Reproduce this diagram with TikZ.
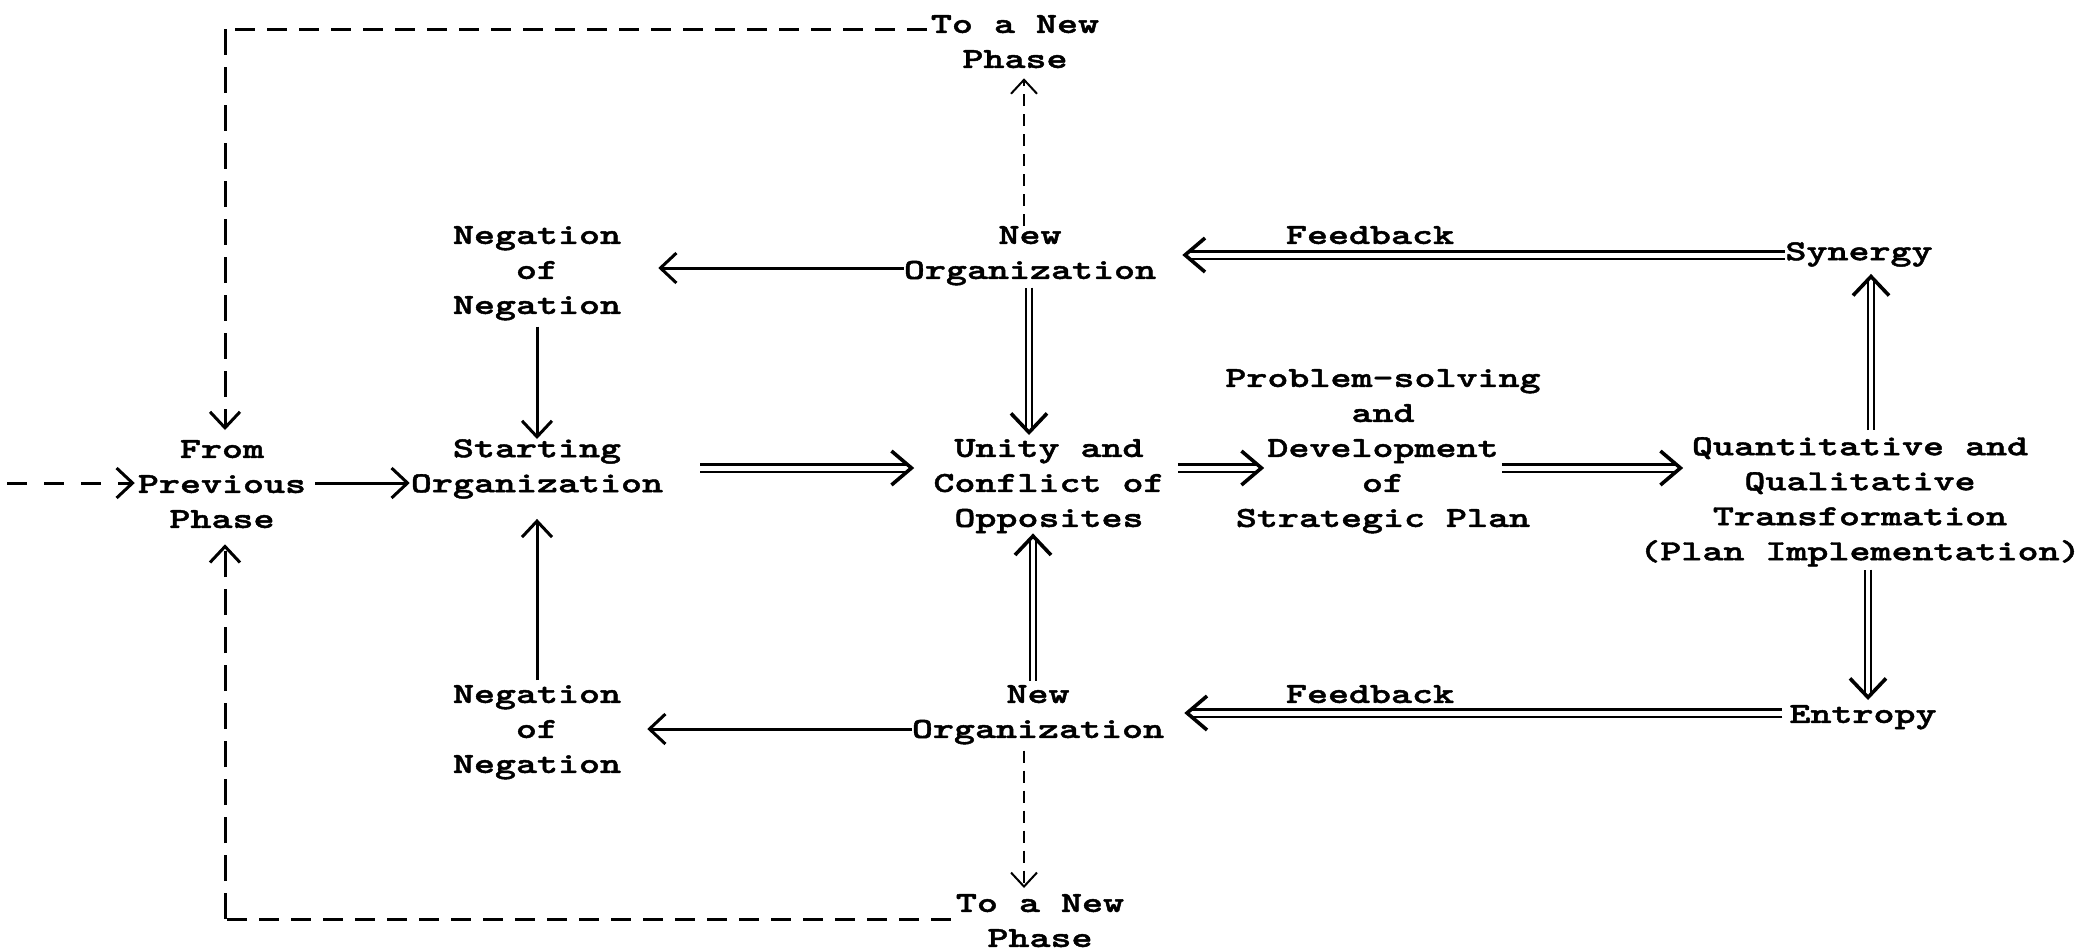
\documentclass[tikz,border=0pt]{standalone}
\usepackage{fontspec}
\newfontfamily\tw{lmmonolt10-bold.otf}[FakeStretch=1.38, FakeBold=1.5]
\usetikzlibrary{arrows.meta}
\begin{document}
\begin{tikzpicture}[x=1pt,y=-1pt,
  lbl/.style={inner sep=0pt, align=center, anchor=north, font=\tw\fontsize{29}{35}\selectfont},
  sarrow/.style={line width=3pt, -{Straight Barb[length=16pt,width=30pt]}},
  tarrow/.style={line width=2pt, dash pattern=on 12pt off 8pt, -{Straight Barb[length=14pt,width=26pt]}},
  darrow/.style 2 args={line width=3.6pt, dash pattern=on 0pt off 10000pt,
    -{Straight Barb[length=20pt,width=34pt]}, shorten <=#1, shorten >=#2,
    preaction={draw, solid, arrows=-, line width=2.8pt, double, double distance=5pt,
      shorten <=#1, shorten >=#2+6pt}},
  vdarrow/.style 2 args={line width=3.6pt, dash pattern=on 0pt off 10000pt,
    -{Straight Barb[length=19pt,width=36pt]}, shorten <=#1, shorten >=#2,
    preaction={draw, solid, arrows=-, line width=2.5pt, double, double distance=3.2pt,
      shorten <=#1, shorten >=#2+5pt}},
  bdash/.style={line width=3pt, dash pattern=on 20pt off 12pt},
  ldash/.style={line width=3pt, dash pattern=on 26pt off 12pt},
  sdash/.style={line width=3pt, dash pattern=on 20pt off 17pt}
]
\useasboundingbox (0,0) rectangle (2080,951);

% labels
\node[lbl] (toA)   at (1015,15)  {To a New\\Phase};
\node[lbl] (prev)  at (222,440)  {From\\Previous\\Phase};
\node[lbl] (start) at (537,439)  {Starting\\Organization};
\node[lbl] (negT)  at (537,226)  {Negation\\of\\Negation};
\node[lbl] (newT)  at (1030,226) {New\\Organization};
\node[lbl] (unity) at (1049,439) {Unity and\\Conflict of\\Opposites};
\node[lbl] (prob)  at (1383,369) {Problem-solving\\and\\Development\\of\\Strategic Plan};
\node[lbl] (quant) at (1860,437) {Quantitative and\\Qualitative\\Transformation\\(Plan Implementation)};
\node[lbl] (syn)   at (1859,242) {Synergy};
\node[lbl] (ent)   at (1863,705) {Entropy};
\node[lbl] (negB)  at (537,685)  {Negation\\of\\Negation};
\node[lbl] (newB)  at (1038,685) {New\\Organization};
\node[lbl] (toB)   at (1040,894) {To a New\\Phase};
\node[lbl] (fbT)   at (1370,226) {Feedback};
\node[lbl] (fbB)   at (1370,685) {Feedback};

% helper coordinates
\coordinate (lin) at (7,483);
\coordinate (tl)  at (225,29);
\coordinate (bl)  at (225,919);
\coordinate (mr)  at (0,468);
\coordinate (rT)  at (0,268);
\coordinate (rB)  at (0,729);
\coordinate (fT)  at (0,255);
\coordinate (fB)  at (0,713);

% left side
\draw[sdash, sarrow, shorten >=3pt] (lin) -- (lin -| prev.west);
\draw[sarrow, shorten <=9pt, shorten >=1pt] (prev.east |- lin) -- (start.west |- lin);
\draw[bdash, shorten <=4pt] (toA.west |- tl) -- (tl);
\draw[ldash, sarrow, shorten >=10pt] (tl) -- (tl |- prev.north);
\draw[bdash, shorten <=5pt] (toB.west |- bl) -- (bl);
\draw[ldash, sarrow, shorten >=16pt] (bl) -- (bl |- prev.south);

% negation arrows
\draw[sarrow, shorten <=6pt] (negT.south) -- (start.north);
\draw[sarrow, shorten <=5pt, shorten >=20pt] (negB.north) -- (start.south);
\draw[sarrow, shorten >=37pt] (newT.west |- rT) -- (negT.east |- rT);
\draw[sarrow, shorten >=26pt] (newB.west |- rB) -- (negB.east |- rB);

% main row double arrows
\draw[darrow={37pt}{19pt}] (start.east |- mr) -- (unity.west |- mr);
\draw[darrow={13pt}{-39pt}] (unity.east |- mr) -- (prob.west |- mr);
\draw[darrow={-39pt}{-44pt}] (prob.east |- mr) -- (quant.west |- mr);

% new organization to unity
\draw[vdarrow={2pt}{4pt}] ([xshift=-1pt]newT.south) -- ([xshift=-1pt]newT.south |- unity.north);
\draw[vdarrow={4pt}{0pt}] ([xshift=-5pt]newB.north) -- ([xshift=-5pt]newB.north |- unity.south);

% to a new phase
\draw[tarrow, shorten >=10pt] ([xshift=-6pt]newT.north) -- ([xshift=-6pt]newT.north |- toA.south);
\draw[tarrow, shorten <=6pt, shorten >=6pt] ([xshift=-14pt]newB.south) -- ([xshift=-14pt]newB.south |- toB.north);

% feedback
\draw[darrow={0pt}{26pt}] (syn.west |- fT) -- (newT.east |- fT);
\draw[darrow={7pt}{20pt}] (ent.west |- fB) -- (newB.east |- fB);

% quantitative to synergy / entropy
\draw[vdarrow={7pt}{7pt}] ([xshift=11pt]quant.north) -- ([xshift=11pt]quant.north |- syn.south);
\draw[vdarrow={3pt}{5pt}] ([xshift=8pt]quant.south) -- ([xshift=8pt]quant.south |- ent.north);
\end{tikzpicture}
\end{document}
